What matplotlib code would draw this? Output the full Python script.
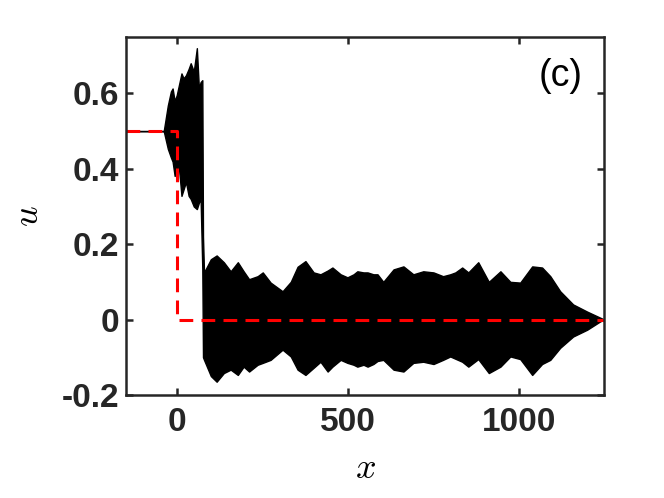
import numpy as np
import matplotlib
matplotlib.use("Agg")
import matplotlib.pyplot as plt

# envelope of the oscillating solution u(x)
x_env = [-150, -40, -28, -19, -14, -8, -2, 4, 12, 18, 25, 33, 39, 48, 57, 63, 68, 73, 75,
         78, 98, 115, 136, 156, 177, 194, 210, 235, 250, 273, 308, 332, 352, 375, 399,
         419, 440, 454, 478, 498, 516, 527, 545, 557, 574, 586, 603, 633, 662, 691, 720,
         750, 778, 799, 814, 834, 852, 881, 912, 946, 975, 1004, 1039, 1068, 1092, 1121,
         1159, 1200, 1238, 1250]
u_upper = [0.5, 0.5, 0.568, 0.605, 0.613, 0.58, 0.595, 0.62, 0.653, 0.64, 0.648, 0.665,
           0.68, 0.658, 0.72, 0.613, 0.63, 0.635, 0.22,
           0.125, 0.16, 0.17, 0.152, 0.128, 0.152, 0.128, 0.107, 0.115, 0.125, 0.098,
           0.075, 0.10, 0.14, 0.155, 0.125, 0.12, 0.13, 0.138, 0.12, 0.112, 0.12, 0.128,
           0.125, 0.125, 0.12, 0.12, 0.10, 0.133, 0.141, 0.12, 0.128, 0.125, 0.115, 0.12,
           0.125, 0.138, 0.125, 0.152, 0.10, 0.128, 0.10, 0.098, 0.141, 0.138, 0.115,
           0.075, 0.04, 0.021, 0.005, 0.0]
u_lower = [0.5, 0.5, 0.453, 0.43, 0.419, 0.381, 0.39, 0.408, 0.328, 0.345, 0.365, 0.328,
           0.32, 0.30, 0.293, 0.31, 0.32, 0.133, -0.10,
           -0.107, -0.15, -0.165, -0.142, -0.133, -0.147, -0.125, -0.138, -0.12, -0.115,
           -0.107, -0.08, -0.098, -0.133, -0.147, -0.128, -0.112, -0.138, -0.125, -0.107,
           -0.115, -0.12, -0.125, -0.12, -0.125, -0.118, -0.11, -0.107, -0.133, -0.138,
           -0.115, -0.112, -0.118, -0.107, -0.098, -0.104, -0.112, -0.125, -0.105, -0.142,
           -0.125, -0.098, -0.105, -0.147, -0.118, -0.107, -0.075, -0.045, -0.027, -0.005,
           0.0]

# initial step profile (red dashed)
x_init = [-150, 0, 0, 1250]
u_init = [0.5, 0.5, 0.0, 0.0]

x_ticks = [0, 500, 1000]
y_ticks = [-0.2, 0, 0.2, 0.4, 0.6]
y_ticklabels = ['-0.2', '0', '0.2', '0.4', '0.6']

plt.rcParams['font.family'] = ['Liberation Sans', 'DejaVu Sans']
plt.rcParams['mathtext.fontset'] = 'cm'

dark = '#262626'
fig = plt.figure(figsize=(6.64, 4.98), dpi=100)
ax = fig.add_axes([0.19, 0.207, 0.72, 0.719])

ax.fill_between(x_env, u_lower, u_upper, color='black', linewidth=1.0, edgecolor='black')
ax.plot(x_init, u_init, color='red', linewidth=2.2, dashes=(4.5, 2.7))

ax.set_xlim(-150, 1250)
ax.set_ylim(-0.2, 0.75)
ax.set_xticks(x_ticks)
ax.set_yticks(y_ticks)
ax.set_yticklabels(y_ticklabels)

for s in ax.spines.values():
    s.set_linewidth(1.8)
    s.set_color(dark)
ax.tick_params(direction='in', length=5, width=1.8, top=True, right=True,
               labelsize=24, colors=dark)
ax.tick_params(axis='x', pad=9)
ax.tick_params(axis='y', pad=5)
for lab in ax.get_xticklabels() + ax.get_yticklabels():
    lab.set_fontweight('bold')

ax.set_xlabel(r'$x$', fontsize=26, labelpad=9)
ax.set_ylabel(r'$u$', fontsize=26, labelpad=11)
ax.text(0.955, 0.89, '(c)', transform=ax.transAxes, ha='right', va='center',
        fontsize=27, color='black')

fig.savefig('out.png', dpi=100)
